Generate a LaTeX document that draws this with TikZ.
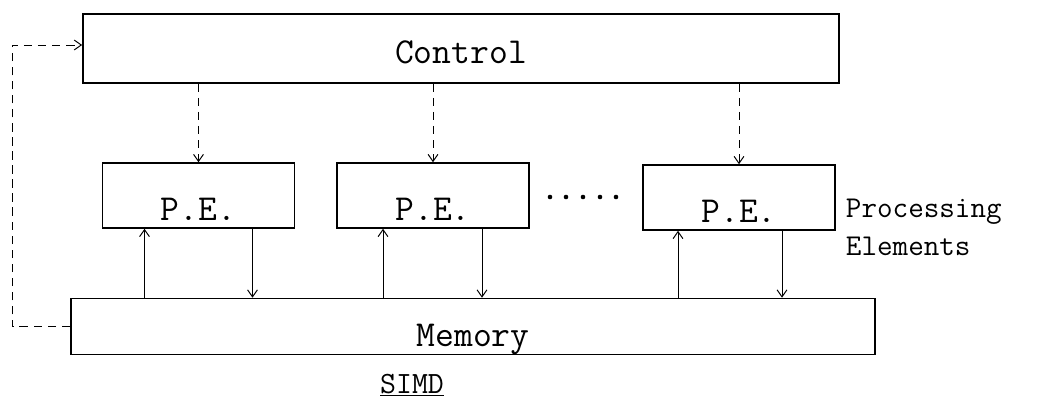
\documentclass[tikz,border=0pt]{standalone}
\usepackage{tikz}
\usetikzlibrary{arrows.meta,calc}

\begin{document}
\begin{tikzpicture}[x=0.025cm, y=-0.025cm,
    font=\ttfamily\fontsize{26}{30}\selectfont,
    box/.style={draw, line width=1.1pt, inner sep=0pt, text depth=0pt},
    pebox/.style={box, minimum width=4.8cm, minimum height=1.625cm, text height=36pt},
    link/.style={line width=0.7pt, -{Straight Barb[length=5pt, width=7pt]}},
    ctl/.style={link, dashed, dash pattern=on 6pt off 4pt}]
  \useasboundingbox (0,0) rectangle (1047,402);
  \node[box, minimum width=18.9cm, minimum height=1.725cm, text height=21pt] (ctrl) at (461,48.5) {Control};
  \node[pebox] (pe1) at (198.5,195.5) {P.E.};
  \node[pebox] (pe2) at (433,195.5) {P.E.};
  \node[pebox] (pe3) at (739,197.5) {P.E.};
  \node[box, minimum width=20.1cm, minimum height=1.4cm, text height=28pt] (mem) at (473,326.5) {Memory};
  \node[align=left, anchor=west, font=\ttfamily\fontsize{21.5}{27}\selectfont] (pelabel) at (841,227) {Processing\\Elements};
  \node[font=\ttfamily\fontsize{22}{26}\selectfont] (simd) at (412,385) {\underline{SIMD}};
  \foreach \x in {550,566,583,600,616}
    \fill (\x,197) circle (2.3);
  % ports on the P.E. boxes
  \coordinate (in1) at ($(pe1.south)+(-54,0)$);
  \coordinate (out1) at ($(pe1.south)+(54,0)$);
  \coordinate (in2) at ($(pe2.south)+(-50,0)$);
  \coordinate (out2) at ($(pe2.south)+(49,0)$);
  \coordinate (in3) at ($(pe3.south)+(-61,0)$);
  \coordinate (out3) at ($(pe3.south)+(43,0)$);
  \draw[ctl] (ctrl.south -| pe1.north) -- (pe1.north);
  \draw[ctl] (ctrl.south -| pe2.north) -- (pe2.north);
  \draw[ctl] (ctrl.south -| pe3.north) -- (pe3.north);
  \draw[link] (in1 |- mem.north) -- (in1);
  \draw[link] (out1) -- (out1 |- mem.north);
  \draw[link] (in2 |- mem.north) -- (in2);
  \draw[link] (out2) -- (out2 |- mem.north);
  \draw[link] (in3 |- mem.north) -- (in3);
  \draw[link] (out3) -- (out3 |- mem.north);
  \draw[ctl] (mem.west) -- (12,326.5) -- (12,45) -- (ctrl.west |- 0,45);
\end{tikzpicture}
\end{document}
